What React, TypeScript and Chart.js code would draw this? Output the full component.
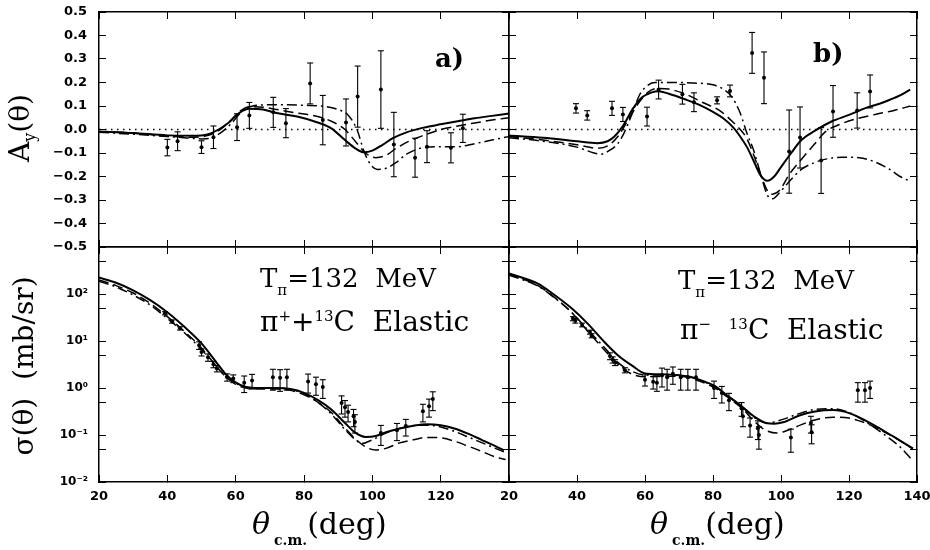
import React, { useEffect, useRef } from 'react';
import { Chart, registerables } from 'chart.js';
Chart.register(...registerables);

// ---------- axis ticks ----------
const X_TICKS = [20, 40, 60, 80, 100, 120, 140];
const AY_TICKS = [-0.5, -0.4, -0.3, -0.2, -0.1, 0, 0.1, 0.2, 0.3, 0.4, 0.5];
const SIG_TICKS = [0.01, 0.05, 0.1, 0.5, 1, 5, 10, 50, 100, 500, 1000];
const SIG_DECADES = [0.01, 0.1, 1, 10, 100];
const SIG_DECADE_LABELS = ['10\u207B\u00B2', '10\u207B\u00B9', '10\u2070', '10\u00B9', '10\u00B2'];

// ---------- a) A_y, pi+ 13C ----------
const ayPlusX = [40, 43, 50, 53.5, 60.4, 64, 71, 74.7, 81.8, 85.5, 92.3, 95.7, 102.5, 106.3, 112.5, 116, 123, 126.5];
const ayPlusY = [-0.077, -0.05, -0.075, -0.033, 0.01, 0.06, 0.073, 0.027, 0.196, 0.04, 0.03, 0.14, 0.17, -0.064, -0.12, -0.073, -0.078, 0.005];
const ayPlusErr = [0.035, 0.04, 0.027, 0.048, 0.057, 0.055, 0.064, 0.062, 0.087, 0.105, 0.1, 0.13, 0.165, 0.137, 0.083, 0.068, 0.064, 0.06];

const ayPlusSolidX = [20, 30, 40, 47, 52, 55, 58, 61, 64, 68, 72, 78, 84, 88, 92, 95, 97.5, 100, 103, 106, 110, 115, 120, 125, 130, 135, 140];
const ayPlusSolidY = [-0.008, -0.015, -0.025, -0.027, -0.02, 0.0, 0.03, 0.07, 0.088, 0.085, 0.07, 0.055, 0.03, 0.005, -0.045, -0.08, -0.097, -0.09, -0.065, -0.037, -0.012, 0.008, 0.022, 0.035, 0.048, 0.058, 0.068];
const ayPlusDashX = [20, 30, 40, 47, 52, 55, 58, 61, 64, 68, 72, 78, 84, 88, 92, 95, 98, 101, 104, 107, 110, 115, 120, 125, 130, 135, 140];
const ayPlusDashY = [-0.01, -0.015, -0.028, -0.033, -0.025, -0.005, 0.03, 0.075, 0.097, 0.095, 0.085, 0.07, 0.055, 0.035, 0.0, -0.05, -0.1, -0.12, -0.11, -0.08, -0.055, -0.025, 0.0, 0.015, 0.028, 0.04, 0.05];
const ayPlusDotDashX = [20, 30, 40, 45, 50, 53, 56, 59, 62, 65, 70, 75, 80, 85, 90, 93, 95.5, 97.5, 99.5, 101.5, 104, 107, 110, 114, 120, 125, 130, 135, 140];
const ayPlusDotDashY = [-0.012, -0.02, -0.03, -0.035, -0.04, -0.035, -0.01, 0.03, 0.08, 0.1, 0.105, 0.105, 0.103, 0.1, 0.085, 0.06, 0.0, -0.09, -0.15, -0.17, -0.165, -0.14, -0.105, -0.08, -0.073, -0.073, -0.06, -0.045, -0.03];

// ---------- b) A_y, pi- 13C ----------
const ayMinusX = [39.7, 43, 50.3, 53.5, 60.6, 64, 71, 74.4, 81.2, 85, 91.5, 95, 102.4, 105.6, 111.8, 115.3, 122.4, 126.2];
const ayMinusY = [0.09, 0.06, 0.09, 0.064, 0.055, 0.17, 0.15, 0.116, 0.124, 0.164, 0.326, 0.22, -0.094, -0.034, -0.132, 0.077, 0.081, 0.162];
const ayMinusErr = [0.02, 0.02, 0.03, 0.03, 0.04, 0.04, 0.042, 0.04, 0.015, 0.025, 0.087, 0.11, 0.177, 0.13, 0.14, 0.11, 0.075, 0.07];

const ayMinusSolidX = [20, 30, 40, 46, 49, 51, 53.5, 56.5, 59, 62, 64, 67, 71.5, 76, 80, 83, 86, 88, 90, 92, 94, 96, 98, 100, 103, 106, 110, 115, 120, 125, 130, 135, 138];
const ayMinusSolidY = [-0.026, -0.035, -0.05, -0.058, -0.05, -0.03, 0.015, 0.09, 0.135, 0.158, 0.163, 0.152, 0.13, 0.105, 0.075, 0.048, 0.008, -0.03, -0.075, -0.135, -0.195, -0.218, -0.2, -0.16, -0.1, -0.045, -0.005, 0.035, 0.062, 0.092, 0.115, 0.145, 0.17];
const ayMinusDashX = [20, 30, 40, 46, 49, 52, 55, 58, 61, 64, 67, 72, 77, 82, 86, 88, 90, 92, 94, 96, 97.5, 99.5, 102.5, 106.4, 110, 113, 117, 122, 128, 133, 138];
const ayMinusDashY = [-0.03, -0.045, -0.065, -0.08, -0.07, -0.03, 0.04, 0.11, 0.16, 0.175, 0.172, 0.15, 0.115, 0.08, 0.03, 0.0, -0.04, -0.11, -0.19, -0.26, -0.275, -0.26, -0.19, -0.12, -0.06, -0.01, 0.02, 0.045, 0.065, 0.08, 0.1];
const ayMinusDotDashX = [20, 30, 40, 45, 47, 50, 52, 54, 56, 58.5, 61, 63, 68, 74, 80, 83, 85.5, 88, 90, 92, 94, 96, 97.5, 99.5, 102.5, 106, 110, 113.5, 118, 123, 128, 132, 135, 138];
const ayMinusDotDashY = [-0.035, -0.05, -0.075, -0.1, -0.105, -0.085, -0.06, -0.01, 0.06, 0.15, 0.19, 0.2, 0.2, 0.198, 0.19, 0.172, 0.14, 0.07, -0.017, -0.09, -0.19, -0.28, -0.295, -0.27, -0.22, -0.17, -0.14, -0.125, -0.118, -0.12, -0.14, -0.17, -0.2, -0.22];

// ---------- sigma, pi+ 13C (mb/sr) ----------
const sigPlusX = [39.3, 41.4, 43.7, 49.3, 50.0, 51.9, 53.5, 54.5, 57.5, 59.3, 62.5, 64.8, 70.9, 73.0, 75.0, 81.2, 83.5, 85.5, 91.0, 92.0, 92.9, 94.5, 94.9, 102.5, 107.2, 109.8, 114.8, 116.6, 117.7];
const sigPlusY = [39, 26, 18.6, 8.1, 5.8, 4.5, 3.2, 2.6, 1.7, 1.6, 1.3, 1.45, 1.7, 1.65, 1.7, 1.38, 1.2, 1.05, 0.48, 0.39, 0.31, 0.25, 0.19, 0.11, 0.126, 0.155, 0.32, 0.41, 0.58];
const sigPlusErr = [3, 2, 1.5, 1.5, 1.0, 0.8, 0.5, 0.4, 0.3, 0.3, 0.5, 0.5, 0.8, 0.8, 0.8, 0.6, 0.5, 0.45, 0.2, 0.15, 0.12, 0.1, 0.08, 0.05, 0.05, 0.06, 0.13, 0.17, 0.25];

const sigPlusSolidX = [20, 25, 30, 35, 40, 45, 50, 54.5, 57, 60, 63, 67, 72, 76, 80, 84, 88, 92, 95, 98, 101, 104, 108, 112, 116, 120, 124, 128, 132, 136, 138.5];
const sigPlusSolidY = [224, 174, 120, 74, 41, 20, 8.9, 3.4, 2.0, 1.32, 1.05, 1.0, 1.0, 0.95, 0.79, 0.56, 0.35, 0.18, 0.112, 0.091, 0.095, 0.115, 0.138, 0.158, 0.17, 0.162, 0.138, 0.107, 0.079, 0.058, 0.047];
const sigPlusDashX = [20, 25, 30, 35, 40, 45, 50, 54.5, 57, 60, 63, 67, 72, 76, 80, 84, 88, 92, 95, 98, 101, 104, 108, 112, 116, 120, 124, 128, 132, 136, 139];
const sigPlusDashY = [200, 151, 105, 63, 33, 16, 7.1, 2.8, 1.78, 1.2, 1.0, 0.95, 0.95, 0.89, 0.72, 0.5, 0.3, 0.14, 0.083, 0.056, 0.048, 0.052, 0.068, 0.079, 0.089, 0.087, 0.074, 0.058, 0.045, 0.034, 0.03];
const sigPlusDotDashX = [20, 25, 30, 35, 40, 45, 50, 54.5, 57, 60, 63, 67, 72, 76, 80, 84, 88, 92, 95, 97, 100, 104, 108, 112, 116, 120, 124, 128, 132, 136, 138.5];
const sigPlusDotDashY = [186, 141, 95, 58, 30, 15, 6.6, 2.8, 1.8, 1.26, 1.05, 1.0, 1.0, 0.93, 0.76, 0.5, 0.28, 0.13, 0.08, 0.066, 0.079, 0.11, 0.138, 0.158, 0.162, 0.148, 0.12, 0.091, 0.069, 0.052, 0.044];

// ---------- sigma, pi- 13C (mb/sr) ----------
const sigMinusX = [38.8, 39.5, 41.5, 43.8, 44.3, 49.7, 50.5, 51.2, 54.1, 60.0, 62.4, 63.5, 65.0, 66.5, 68.2, 70.5, 72.6, 75.0, 80.3, 82.6, 84.7, 88.4, 88.8, 90.9, 93.2, 93.5, 102.9, 108.8, 109.0, 122.6, 124.7, 126.2];
const sigMinusY = [30, 27, 22, 15.5, 13, 4.8, 4.0, 3.5, 2.4, 1.5, 1.35, 1.3, 1.85, 1.7, 2.0, 1.7, 1.7, 1.7, 1.0, 0.78, 0.55, 0.37, 0.25, 0.16, 0.14, 0.1, 0.088, 0.18, 0.115, 0.9, 0.9, 1.0];
const sigMinusErr = [3, 3, 2, 1.5, 1.3, 0.8, 0.6, 0.5, 0.3, 0.4, 0.4, 0.45, 0.8, 0.8, 0.8, 0.8, 0.8, 0.8, 0.4, 0.3, 0.22, 0.12, 0.1, 0.07, 0.06, 0.05, 0.045, 0.07, 0.05, 0.4, 0.4, 0.4];

const sigMinusSolidX = [20, 28.5, 33, 38.5, 43, 48.2, 52, 56.2, 60, 65, 70, 73.8, 77, 80.6, 84, 88.8, 92, 95.9, 98, 100.6, 105.6, 110, 115.3, 120.3, 125, 130, 135, 138.8];
const sigMinusSolidY = [275, 166, 100, 49, 24, 9.3, 5.0, 3.0, 2.04, 1.95, 1.86, 1.7, 1.41, 1.1, 0.71, 0.39, 0.25, 0.178, 0.174, 0.186, 0.263, 0.316, 0.339, 0.288, 0.2, 0.126, 0.076, 0.052];
const sigMinusDashX = [20, 28.5, 33, 38.5, 43, 48.2, 52, 56, 60, 65, 70, 74, 77, 80.6, 84, 88.8, 92, 95, 98.8, 102, 106, 110, 115.3, 120, 125, 131, 135, 138.8];
const sigMinusDashY = [263, 151, 89, 40, 16.6, 6.3, 3.2, 2.0, 1.74, 1.78, 1.78, 1.58, 1.32, 1.0, 0.66, 0.355, 0.2, 0.132, 0.11, 0.126, 0.166, 0.209, 0.24, 0.229, 0.178, 0.11, 0.076, 0.05];
const sigMinusDotDashX = [20, 28.5, 33, 38.5, 43, 48.2, 52, 56, 60, 65, 70, 74, 77, 80.6, 84, 88.8, 92, 95.9, 98, 101, 105, 110, 115, 120, 125, 130, 135, 138.8];
const sigMinusDotDashY = [251, 148, 87, 40, 17.8, 7.1, 3.5, 2.3, 1.9, 1.9, 1.86, 1.66, 1.38, 1.07, 0.71, 0.38, 0.24, 0.178, 0.19, 0.22, 0.28, 0.35, 0.363, 0.3, 0.19, 0.107, 0.056, 0.028];

const ZERO_X = [20, 140];
const ZERO_Y = [0, 0];

// ---------- helpers ----------
const W = 930;
const H = 550;
const SERIF = '"DejaVu Serif", serif';
const TICK_FAMILY = '"DejaVu Sans", sans-serif';

const pts = (xs: number[], ys: number[]) => xs.map((x, i) => ({ x, y: ys[i] }));
const barPts = (xs: number[], ys: number[], es: number[]) => {
  const out: any[] = [];
  xs.forEach((x, i) => {
    out.push({ x, y: ys[i] - es[i] }, { x, y: ys[i] + es[i] }, { x, y: null });
  });
  return out;
};

const curve = (xs: number[], ys: number[], dash: number[], w: number) => ({
  data: pts(xs, ys),
  borderColor: '#000',
  borderWidth: w,
  borderDash: dash,
  pointRadius: 0,
  fill: false,
  cubicInterpolationMode: 'monotone',
});
const errorBars = (xs: number[], ys: number[], es: number[]) => ({
  data: barPts(xs, ys, es),
  borderColor: '#000',
  borderWidth: 1.1,
  pointStyle: 'line',
  pointRadius: 3,
  pointBorderWidth: 1.1,
  pointBorderColor: '#000',
  spanGaps: false,
  tension: 0,
});
const dots = (xs: number[], ys: number[]) => ({
  data: pts(xs, ys),
  showLine: false,
  pointRadius: 2,
  pointBackgroundColor: '#000',
  pointBorderColor: '#000',
  pointBorderWidth: 0,
});

const gridOpts = { drawOnChartArea: false, drawTicks: true, tickLength: -7, color: '#000', lineWidth: 1 };
const borderOpts = { display: true, color: '#000', width: 1.5 };

// fixes an axis box to an exact size and removes label-overflow padding
const fixSize = (size: number, horizontal: boolean) => (s: any) => {
  if (horizontal) s.height = size; else s.width = size;
  s.paddingTop = 0; s.paddingBottom = 0; s.paddingLeft = 0; s.paddingRight = 0;
};

function xAxis(position: string, size: number, labels: boolean, hideLast: boolean) {
  return {
    type: 'linear',
    position,
    min: 20,
    max: 140,
    afterBuildTicks: (s: any) => { s.ticks = X_TICKS.map((v) => ({ value: v })); },
    afterFit: fixSize(size, true),
    grid: gridOpts,
    border: borderOpts,
    ticks: {
      display: labels,
      autoSkip: false,
      maxRotation: 0,
      padding: 14,
      color: '#000',
      font: { family: TICK_FAMILY, weight: 'bold', size: 13 },
      callback: (v: number) => (hideLast && v === 140 ? '' : String(v)),
    },
  };
}
function ayAxis(position: string, size: number, labels: boolean) {
  return {
    type: 'linear',
    position,
    min: -0.5,
    max: 0.5,
    afterBuildTicks: (s: any) => { s.ticks = AY_TICKS.map((v) => ({ value: v })); },
    afterFit: fixSize(size, false),
    grid: gridOpts,
    border: borderOpts,
    ticks: {
      display: labels,
      autoSkip: false,
      padding: 19,
      color: '#000',
      font: { family: TICK_FAMILY, weight: 'bold', size: 13 },
      callback: (v: number) => (Math.abs(v) < 1e-9 ? '0.0' : v.toFixed(1).replace('-', '\u2212')),
    },
  };
}
function sigAxis(position: string, size: number, labels: boolean) {
  return {
    type: 'logarithmic',
    position,
    min: 0.01,
    max: 1000,
    afterBuildTicks: (s: any) => { s.ticks = SIG_TICKS.map((v) => ({ value: v })); },
    afterFit: fixSize(size, false),
    grid: gridOpts,
    border: borderOpts,
    ticks: {
      display: labels,
      autoSkip: false,
      padding: 18,
      color: '#000',
      font: { family: TICK_FAMILY, weight: 'bold', size: 12 },
      callback: (v: number) => {
        const i = SIG_DECADES.findIndex((d) => Math.abs(d - v) / d < 1e-6);
        return i >= 0 ? SIG_DECADE_LABELS[i] : '';
      },
    },
  };
}

type PanelDef = {
  box: [number, number, number, number]; // left, top, right, bottom
  log: boolean;
  xLabels: boolean;
  yLabels: boolean;
  hideLast: boolean;
  datasets: any[];
};

const PANELS: PanelDef[] = [
  {
    box: [99, 12, 509, 247], log: false, xLabels: false, yLabels: true, hideLast: true,
    datasets: [
      curve(ZERO_X, ZERO_Y, [1.5, 4.5], 1.5),
      curve(ayPlusSolidX, ayPlusSolidY, [], 2),
      curve(ayPlusDashX, ayPlusDashY, [10, 5], 1.5),
      curve(ayPlusDotDashX, ayPlusDotDashY, [10, 4, 2, 4], 1.5),
      errorBars(ayPlusX, ayPlusY, ayPlusErr),
      dots(ayPlusX, ayPlusY),
    ],
  },
  {
    box: [509, 12, 917, 247], log: false, xLabels: false, yLabels: false, hideLast: false,
    datasets: [
      curve(ZERO_X, ZERO_Y, [1.5, 4.5], 1.5),
      curve(ayMinusSolidX, ayMinusSolidY, [], 2),
      curve(ayMinusDashX, ayMinusDashY, [10, 5], 1.5),
      curve(ayMinusDotDashX, ayMinusDotDashY, [10, 4, 2, 4], 1.5),
      errorBars(ayMinusX, ayMinusY, ayMinusErr),
      dots(ayMinusX, ayMinusY),
    ],
  },
  {
    box: [99, 247, 509, 482], log: true, xLabels: true, yLabels: true, hideLast: true,
    datasets: [
      curve(sigPlusSolidX, sigPlusSolidY, [], 2),
      curve(sigPlusDashX, sigPlusDashY, [10, 5], 1.5),
      curve(sigPlusDotDashX, sigPlusDotDashY, [10, 4, 2, 4], 1.5),
      errorBars(sigPlusX, sigPlusY, sigPlusErr),
      dots(sigPlusX, sigPlusY),
    ],
  },
  {
    box: [509, 247, 917, 482], log: true, xLabels: true, yLabels: false, hideLast: false,
    datasets: [
      curve(sigMinusSolidX, sigMinusSolidY, [], 2),
      curve(sigMinusDashX, sigMinusDashY, [10, 5], 1.5),
      curve(sigMinusDotDashX, sigMinusDotDashY, [10, 4, 2, 4], 1.5),
      errorBars(sigMinusX, sigMinusY, sigMinusErr),
      dots(sigMinusX, sigMinusY),
    ],
  },
];

function Panel({ def }: { def: PanelDef }) {
  const ref = useRef<HTMLCanvasElement>(null);
  useEffect(() => {
    const [l, t, r, b] = def.box;
    const yA = def.log ? sigAxis : ayAxis;
    const chart = new Chart(ref.current as HTMLCanvasElement, {
      type: 'line',
      data: { datasets: def.datasets },
      options: {
        animation: false,
        responsive: false,
        maintainAspectRatio: false,
        devicePixelRatio: 1,
        layout: { padding: { left: 0, top: t, right: W - r, bottom: 0 } },
        plugins: { legend: { display: false }, tooltip: { enabled: false } },
        events: [],
        scales: {
          x: xAxis('bottom', H - b, def.xLabels, def.hideLast),
          x2: xAxis('top', 0, false, false),
          y: yA('left', l, def.yLabels),
          y2: yA('right', 0, false),
        },
      } as any,
    });
    return () => chart.destroy();
  }, [def]);
  return (
    <canvas
      ref={ref}
      width={W}
      height={H}
      style={{ position: 'absolute', left: 0, top: 0, width: W, height: H }}
    />
  );
}

const abs = (extra: React.CSSProperties): React.CSSProperties => ({
  position: 'absolute',
  whiteSpace: 'nowrap',
  fontFamily: SERIF,
  color: '#000',
  lineHeight: 1,
  ...extra,
});

function XTitle({ left }: { left: number }) {
  return (
    <div style={abs({ left, top: 509, fontSize: 30 })}>
      <span style={{ fontStyle: 'italic' }}>θ</span>
      <span style={{ fontSize: 14, fontWeight: 'bold', verticalAlign: '-11px', marginLeft: 4 }}>c.m.</span>
      <span>(deg)</span>
    </div>
  );
}

const SUP: React.CSSProperties = { fontSize: 15, verticalAlign: '10px' };
const SUB: React.CSSProperties = { fontSize: 15, verticalAlign: '-8px' };

export default function App() {
  return (
    <div style={{ position: 'fixed', left: 0, top: 0, width: W, height: H, background: '#fff', overflow: 'hidden' }}>
      {PANELS.map((p, i) => (
        <Panel key={i} def={p} />
      ))}
      {/* axis titles */}
      <div style={abs({ left: 22, top: 128, fontSize: 28, transform: 'translate(-50%, -50%) rotate(-90deg)' })}>
        A<sub style={{ fontSize: 16, verticalAlign: '-6px' }}>y</sub>(θ)
      </div>
      <div style={abs({ left: 24, top: 366, fontSize: 28, transform: 'translate(-50%, -50%) rotate(-90deg)' })}>
        σ(θ)&nbsp; (mb/sr)
      </div>
      <XTitle left={252} />
      <XTitle left={650} />
      {/* panel labels */}
      <div style={abs({ left: 435, top: 45, fontSize: 26, fontWeight: 'bold' })}>a)</div>
      <div style={abs({ left: 813, top: 40, fontSize: 26, fontWeight: 'bold' })}>b)</div>
      {/* reaction annotations */}
      <div style={abs({ left: 260, top: 265, fontSize: 26 })}>
        T<span style={SUB}>π</span>=132&nbsp; MeV
      </div>
      <div style={abs({ left: 260, top: 308, fontSize: 28 })}>
        π<sup style={SUP}>+</sup>+<sup style={SUP}>13</sup>C&nbsp; Elastic
      </div>
      <div style={abs({ left: 678, top: 267, fontSize: 26 })}>
        T<span style={SUB}>π</span>=132&nbsp; MeV
      </div>
      <div style={abs({ left: 680, top: 316, fontSize: 28 })}>
        π<sup style={SUP}>−</sup>&nbsp; <sup style={SUP}>13</sup>C&nbsp; Elastic
      </div>
    </div>
  );
}
